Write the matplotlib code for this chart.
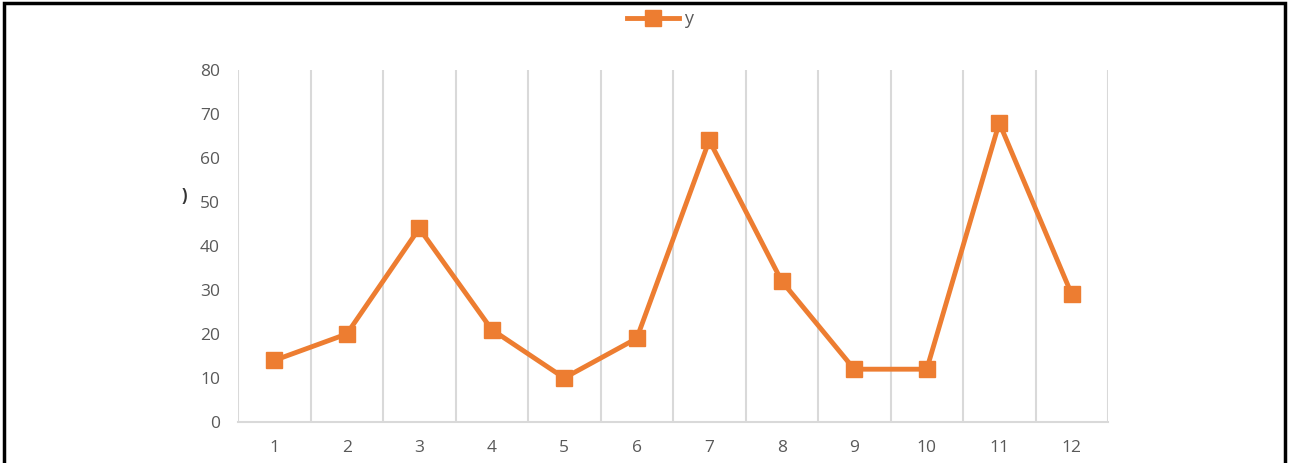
import matplotlib.pyplot as plt
from matplotlib.patches import Rectangle

# данные
x = [1, 2, 3, 4, 5, 6, 7, 8, 9, 10, 11, 12]
y = [14, 20, 44, 21, 10, 19, 64, 32, 12, 12, 68, 29]
y_ticks = [0, 10, 20, 30, 40, 50, 60, 70, 80]

orange = '#ED7D31'
gray_text = '#595959'
grid_col = '#D9D9D9'

plt.rcParams['font.family'] = ['Open Sans', 'DejaVu Sans']

fig = plt.figure(figsize=(12.9, 4.63), dpi=100)
ax = fig.add_axes([238 / 1290, 1 - 422 / 463, 870 / 1290, 352 / 463])

ax.plot(x, y, color=orange, linewidth=3.5, marker='s', markersize=11,
        label='y', solid_joinstyle='round')

ax.set_xlim(0.5, 12.5)
ax.set_ylim(0, 80)
ax.set_xticks(x)
ax.set_yticks(y_ticks)
ax.tick_params(length=0, labelsize=12.5, colors=gray_text)
ax.tick_params(axis='x', pad=13)
ax.tick_params(axis='y', pad=13)

# вертикальная сетка по границам категорий
for b in range(13):
    ax.axvline(b + 0.5, color=grid_col, linewidth=1.5, zorder=0)

for s in ['top', 'right', 'left']:
    ax.spines[s].set_visible(False)
ax.spines['bottom'].set_color(grid_col)
ax.spines['bottom'].set_linewidth(1.5)

leg = fig.legend(loc='center', bbox_to_anchor=(660 / 1290, 1 - 19 / 463),
                 frameon=False, fontsize=13, handlelength=2.9,
                 handletextpad=0.25, labelcolor=gray_text)

# обрезанная подпись оси
fig.text(184 / 1290, 1 - 196 / 463, ')', fontsize=12, fontweight='bold',
         color='#333333', ha='center', va='center')

# рамка
fig.patches.append(Rectangle((4 / 1290, -0.01), 1281 / 1290, 1 - 3 / 463 + 0.01,
                             transform=fig.transFigure, fill=False,
                             edgecolor='black', linewidth=2.5))

plt.savefig('out.png')
